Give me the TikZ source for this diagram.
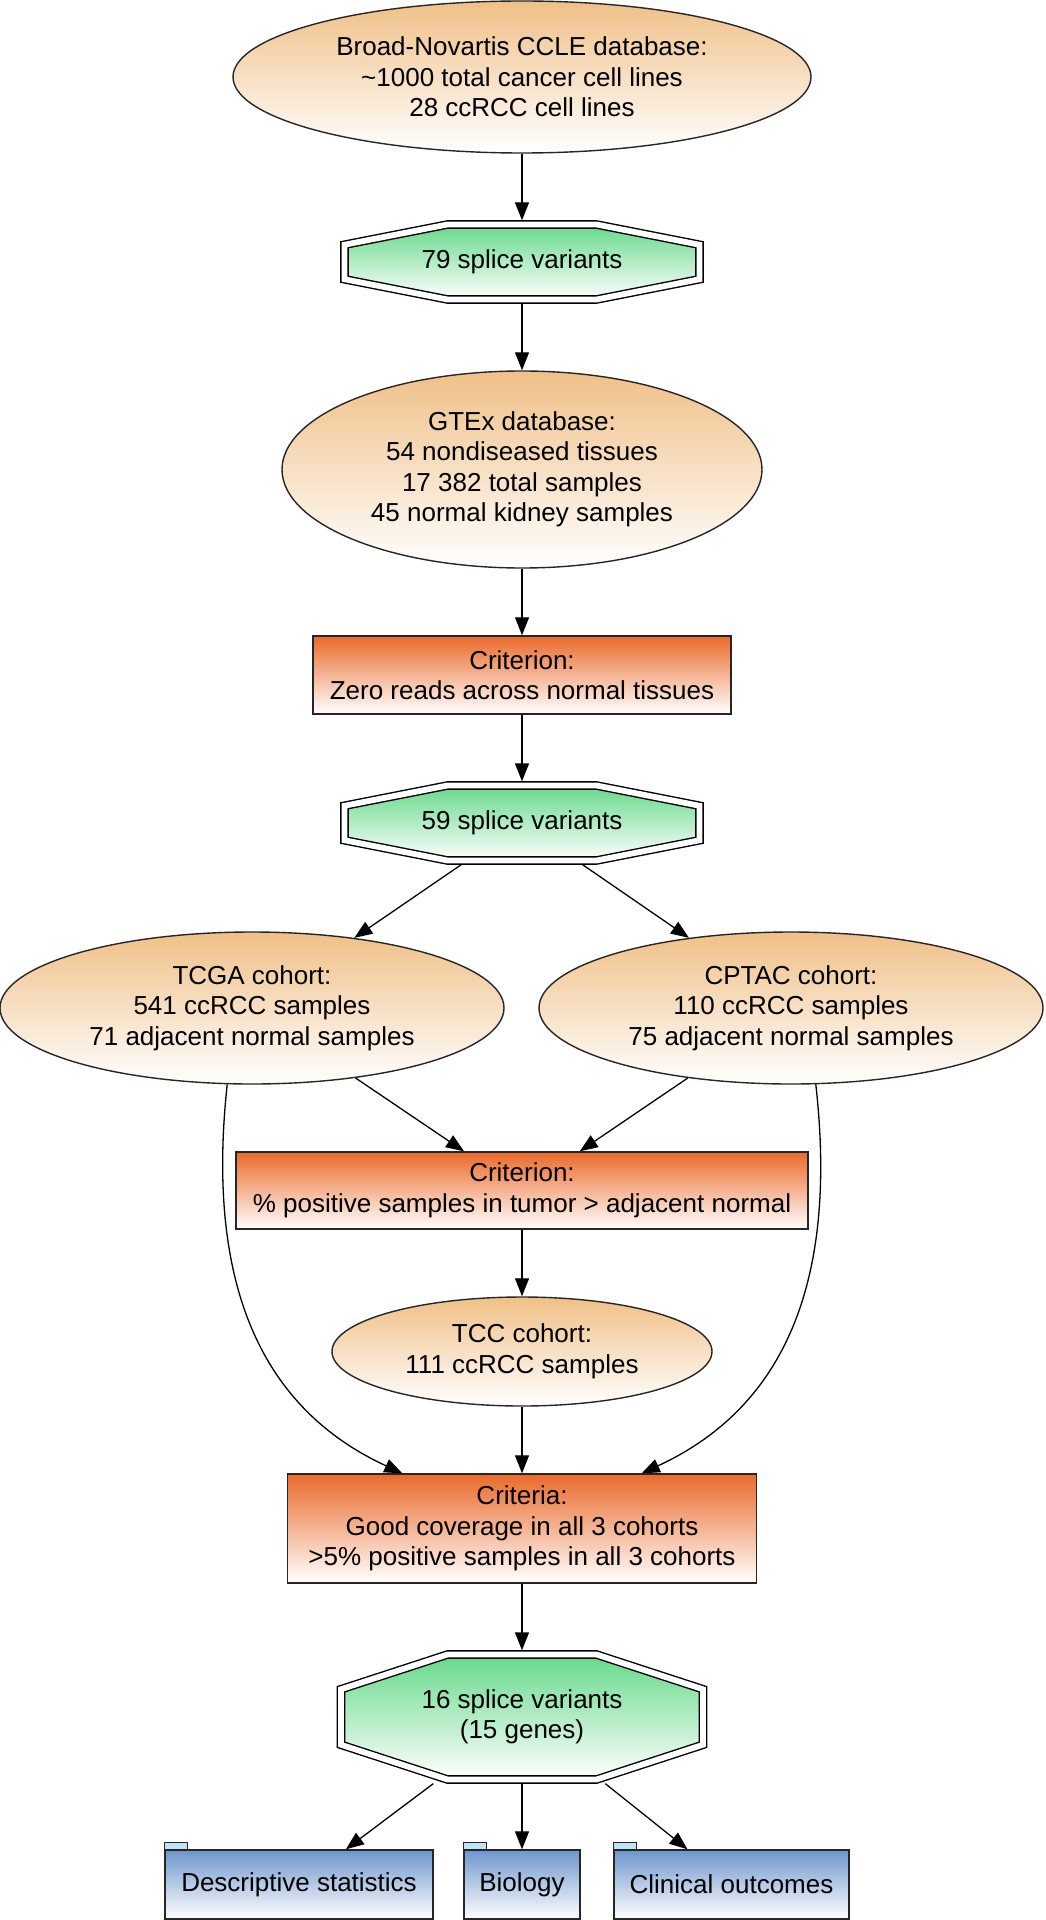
\documentclass[tikz,border=0pt]{standalone}
\usepackage{fontspec}
\setmainfont{Liberation Sans}
\usetikzlibrary{arrows.meta,shapes.geometric}

\definecolor{cohorttop}{RGB}{240,192,135}
\definecolor{crittop}{RGB}{234,106,42}
\definecolor{splicetop}{RGB}{102,217,138}
\definecolor{outtop}{RGB}{110,150,205}
\definecolor{tabfill}{RGB}{190,228,245}

\tikzset{
  txt/.style={inner sep=0pt, align=center, font=\fontsize{13}{15.25}\selectfont},
  cohort/.style={txt, ellipse, draw=black!85, line width=0.7pt, top color=cohorttop, bottom color=white},
  criterion/.style={txt, rectangle, draw=black!85, line width=0.7pt, top color=crittop, bottom color=white},
  splice/.style={txt, rectangle},
  spliceline/.style={draw=black, line width=0.7pt, double=white, double distance=2.9pt, top color=splicetop, bottom color=white},
  outcome/.style={txt, rectangle, draw=black!85, line width=0.7pt, top color=outtop, bottom color=white, minimum height=34.5pt},
  tabline/.style={draw=black!85, line width=0.6pt, fill=tabfill}
}

% flattened double octagon: centre, half width, half height, half side
\newcommand{\spliceoct}[4]{%
  \begin{scope}[shift={#1}]
    \path[spliceline] (-74.5,{-#3+3.5}) -- (74.5,{-#3+3.5}) -- ({#2-4},{-#4+2.75}) -- ({#2-4},{#4-2.75})
      -- (74.5,{#3-3.5}) -- (-74.5,{#3-3.5}) -- ({-#2+4},{#4-2.75}) -- ({-#2+4},{-#4+2.75}) -- cycle;
  \end{scope}}

\begin{document}
\begin{tikzpicture}[x=0.5pt, y=-0.5pt, >={Triangle[length=9pt,width=7pt]}, line width=0.65pt]
\useasboundingbox (0,0) rectangle (1045,1920);

\node[cohort, minimum width=289pt, minimum height=76pt] (ccle) at (522,77) {Broad-Novartis CCLE database:\\\textasciitilde1000 total cancer cell lines\\28 ccRCC cell lines};

\spliceoct{(522,262)}{181.5}{41}{20}
\node[splice, minimum width=181.5pt, minimum height=41pt] (oct79) at (522,262) {79 splice variants};

\node[cohort, minimum width=240pt, minimum height=98.5pt] (gtex) at (522,469.5) {GTEx database:\\54 nondiseased tissues\\17 382 total samples\\45 normal kidney samples};

\node[criterion, minimum width=209pt, minimum height=39pt] (crit1) at (522,675) {Criterion:\\Zero reads across normal tissues};

\spliceoct{(522,823)}{181.5}{41}{20}
\node[splice, minimum width=181.5pt, minimum height=41pt] (oct59) at (522,823) {59 splice variants};

\node[cohort, minimum width=252pt, minimum height=76pt] (tcga) at (252,1008) {TCGA cohort:\\541 ccRCC samples\\71 adjacent normal samples};
\node[cohort, minimum width=252pt, minimum height=76pt] (cptac) at (791,1008) {CPTAC cohort:\\110 ccRCC samples\\75 adjacent normal samples};

\node[criterion, minimum width=286pt, minimum height=38.5pt] (crit2) at (522,1190.5) {Criterion:\\\% positive samples in tumor > adjacent normal};

\node[cohort, minimum width=190pt, minimum height=54.5pt] (tcc) at (522,1351.5) {TCC cohort:\\111 ccRCC samples};

\node[criterion, minimum width=234.5pt, minimum height=54.5pt] (criteria) at (522,1528.5) {Criteria:\\Good coverage in all 3 cohorts\\>5\% positive samples in all 3 cohorts};

\spliceoct{(522,1717)}{185}{66}{30.5}
\node[splice, minimum width=185pt, minimum height=66pt] (oct16) at (522,1717) {16 splice variants\\(15 genes)};

\node[outcome, minimum width=134pt] (desc) at (299,1884.5) {Descriptive statistics};
\node[outcome, minimum width=58pt] (bio) at (522,1884.5) {Biology};
\node[outcome, minimum width=117.5pt] (clin) at (731.5,1884.5) {Clinical outcomes};
\foreach \n in {desc,bio,clin}
  \draw[tabline] (\n.north west) rectangle ++(23,-7);

\draw[->] (ccle) -- (oct79);
\draw[->] (oct79) -- (gtex);
\draw[->] (gtex) -- (crit1);
\draw[->] (crit1) -- (oct59);
\draw[->] (oct59) -- (tcga);
\draw[->] (oct59) -- (cptac);
\draw[->] (tcga) -- (crit2);
\draw[->] (cptac) -- (crit2);
\draw[->] (crit2) -- (tcc);
\draw[->] (tcc) -- (criteria);
% long edges past the first criterion
\draw[->] (tcga.-108) .. controls (205,1290) and (265,1410) .. (criteria);
\draw[->] (cptac.-72) .. controls (839,1290) and (779,1410) .. (criteria);
\draw[->] (criteria) -- (oct16);
\draw[->] (oct16) -- (desc);
\draw[->] (oct16) -- (bio);
\draw[->] (oct16) -- (clin);

\end{tikzpicture}
\end{document}
